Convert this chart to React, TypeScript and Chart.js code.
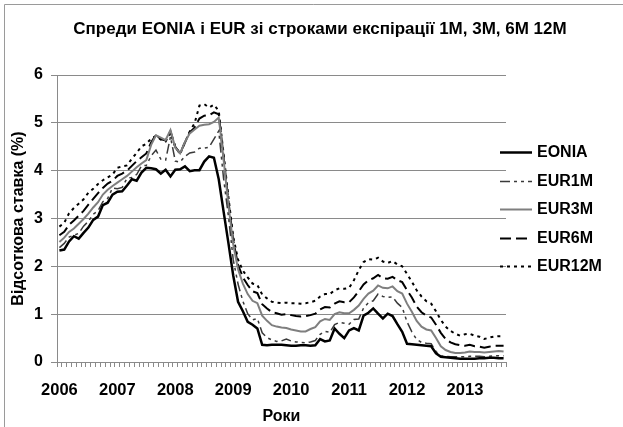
import React, { useEffect, useRef } from "react";
import { Chart, registerables } from "chart.js";

Chart.register(...registerables);

// ---------- data ----------
const years = [2006, 2007, 2008, 2009, 2010, 2011, 2012, 2013];
const monthsPerYear = [12, 12, 12, 12, 12, 12, 12, 9];
const yearTickLabels = ["2006", "2007", "2008", "2009", "2010", "2011", "2012", "2013"];
const yTickValues = [0, 1, 2, 3, 4, 5, 6];

const chartTitle = "Спреди EONIA і EUR зі строками експірації 1M, 3M, 6M 12M";
const yAxisTitle = "Відсоткова ставка (%)";
const xAxisTitle = "Роки";
const seriesNames = ["EONIA", "EUR1M", "EUR3M", "EUR6M", "EUR12M"];

const eonia = [
  2.33, 2.35, 2.52, 2.63, 2.58, 2.7, 2.81, 2.97, 3.04, 3.28, 3.33, 3.5,
  3.56, 3.57, 3.69, 3.82, 3.79, 3.96, 4.06, 4.05, 4.03, 3.94, 4.02, 3.88,
  4.02, 4.03, 4.09, 3.99, 4.01, 4.01, 4.19, 4.3, 4.27, 3.82, 3.15, 2.49,
  1.81, 1.26, 1.06, 0.84, 0.78, 0.7, 0.36, 0.35, 0.36, 0.36, 0.36, 0.35,
  0.34, 0.34, 0.35, 0.35, 0.34, 0.35, 0.48, 0.43, 0.45, 0.7, 0.59, 0.5,
  0.66, 0.71, 0.66, 0.97, 1.03, 1.12, 1.01, 0.91, 1.01, 0.96, 0.79, 0.63,
  0.38, 0.37, 0.36, 0.35, 0.34, 0.33, 0.18, 0.11, 0.1, 0.09, 0.08, 0.07,
  0.07, 0.07, 0.07, 0.08, 0.08, 0.09, 0.09, 0.08, 0.08,
];
const eur1m = [
  2.39, 2.48, 2.61, 2.65, 2.69, 2.84, 2.94, 3.09, 3.16, 3.35, 3.42, 3.64,
  3.62, 3.65, 3.84, 3.86, 3.92, 4.1, 4.11, 4.31, 4.43, 4.24, 4.22, 4.71,
  4.2, 4.18, 4.3, 4.37, 4.39, 4.47, 4.47, 4.49, 4.66, 4.83, 3.84, 3.05,
  2.14, 1.63, 1.27, 1.01, 0.88, 0.91, 0.61, 0.51, 0.46, 0.43, 0.44, 0.48,
  0.44, 0.42, 0.41, 0.4, 0.42, 0.45, 0.58, 0.64, 0.62, 0.78, 0.83, 0.81,
  0.79, 0.89, 0.9, 1.13, 1.24, 1.28, 1.42, 1.37, 1.35, 1.36, 1.23, 1.14,
  0.84, 0.63, 0.47, 0.41, 0.39, 0.38, 0.22, 0.13, 0.12, 0.11, 0.11, 0.11,
  0.11, 0.12, 0.12, 0.12, 0.11, 0.12, 0.13, 0.13, 0.13,
];
const eur3m = [
  2.51, 2.6, 2.72, 2.79, 2.89, 2.99, 3.1, 3.23, 3.34, 3.5, 3.6, 3.68,
  3.75, 3.82, 3.89, 3.98, 4.07, 4.15, 4.22, 4.54, 4.74, 4.69, 4.64, 4.85,
  4.48, 4.36, 4.6, 4.78, 4.86, 4.94, 4.96, 4.97, 5.02, 5.11, 4.24, 3.29,
  2.46, 1.94, 1.64, 1.42, 1.28, 1.23, 0.97, 0.86, 0.77, 0.74, 0.72, 0.71,
  0.68, 0.66, 0.64, 0.64, 0.69, 0.73, 0.85, 0.9, 0.88, 1.0, 1.04, 1.02,
  1.02, 1.09, 1.18, 1.32, 1.43, 1.49, 1.6, 1.55, 1.54, 1.58, 1.48, 1.43,
  1.22, 1.05, 0.86, 0.74, 0.68, 0.66, 0.5, 0.33, 0.25, 0.21, 0.19, 0.19,
  0.2, 0.22, 0.21, 0.21, 0.2, 0.21, 0.22, 0.23, 0.22,
];
const eur6m = [
  2.65, 2.72, 2.87, 2.96, 3.06, 3.16, 3.29, 3.41, 3.53, 3.64, 3.73, 3.79,
  3.89, 3.94, 4.0, 4.1, 4.2, 4.28, 4.36, 4.59, 4.75, 4.66, 4.63, 4.82,
  4.5, 4.36, 4.59, 4.8, 4.9, 5.09, 5.15, 5.16, 5.22, 5.18, 4.29, 3.37,
  2.54, 2.03, 1.77, 1.61, 1.48, 1.44, 1.21, 1.12, 1.04, 1.02, 0.99, 1.0,
  0.98, 0.96, 0.95, 0.96, 0.98, 1.01, 1.1, 1.15, 1.14, 1.22, 1.27, 1.25,
  1.25, 1.35, 1.48, 1.62, 1.71, 1.75, 1.82, 1.75, 1.74, 1.78, 1.71, 1.67,
  1.5, 1.35, 1.16, 1.04, 0.97, 0.93, 0.78, 0.61, 0.48, 0.41, 0.37, 0.35,
  0.34, 0.36, 0.33, 0.32, 0.3, 0.32, 0.34, 0.34, 0.34,
];
const eur12m = [
  2.83, 2.91, 3.11, 3.22, 3.31, 3.4, 3.54, 3.62, 3.72, 3.8, 3.86, 3.92,
  4.06, 4.09, 4.11, 4.25, 4.37, 4.51, 4.56, 4.67, 4.73, 4.65, 4.61, 4.79,
  4.5, 4.35, 4.59, 4.82, 4.99, 5.36, 5.39, 5.32, 5.38, 5.25, 4.35, 3.45,
  2.62, 2.14, 1.91, 1.77, 1.64, 1.61, 1.41, 1.33, 1.26, 1.24, 1.23, 1.24,
  1.23, 1.23, 1.22, 1.23, 1.25, 1.28, 1.37, 1.42, 1.42, 1.5, 1.54, 1.53,
  1.55, 1.71, 1.92, 2.09, 2.15, 2.14, 2.18, 2.1, 2.07, 2.11, 2.04, 2.0,
  1.84, 1.68, 1.5, 1.37, 1.27, 1.22, 1.06, 0.88, 0.74, 0.65, 0.59, 0.55,
  0.58, 0.59, 0.55, 0.53, 0.48, 0.51, 0.53, 0.54, 0.54,
];

// ---------- styles ----------
const FONT = '"Liberation Sans", Arial, sans-serif';
const GRID = "#8a8a8a";

const buildMonths = () => {
  const out: string[] = [];
  years.forEach((y, i) => {
    for (let m = 1; m <= monthsPerYear[i]; m++) out.push(`${y}-${m < 10 ? "0" + m : m}`);
  });
  return out;
};

const decorPlugin = {
  id: "decor",
  beforeDraw(chart: any) {
    const ctx = chart.ctx;
    ctx.save();
    ctx.fillStyle = "#ffffff";
    ctx.fillRect(0, 0, chart.width, chart.height);
    ctx.restore();
  },
  afterDraw(chart: any) {
    const ctx = chart.ctx;
    ctx.save();
    ctx.strokeStyle = "#9a9a9a";
    ctx.lineWidth = 1;
    ctx.beginPath();
    ctx.moveTo(4.5, chart.height);
    ctx.lineTo(4.5, 4.5);
    ctx.lineTo(chart.width, 4.5);
    ctx.stroke();

    ctx.fillStyle = "#000";
    ctx.font = `bold 17px ${FONT}`;
    ctx.textAlign = "center";
    ctx.textBaseline = "middle";
    ctx.fillText(chartTitle, 320, 29);

    ctx.font = `bold 16px ${FONT}`;
    chart.data.datasets.forEach((ds: any, i: number) => {
      const y = Math.round(152 + i * 28.5) + 0.5;
      ctx.setLineDash(ds.borderDash || []);
      ctx.strokeStyle = ds.borderColor;
      ctx.lineWidth = ds.borderWidth;
      ctx.beginPath();
      ctx.moveTo(500, y);
      ctx.lineTo(532, y);
      ctx.stroke();
      ctx.setLineDash([]);
      ctx.textAlign = "left";
      ctx.fillText(ds.label, 537, y);
    });
    ctx.restore();
  },
};

export default function App() {
  const ref = useRef<HTMLCanvasElement | null>(null);
  useEffect(() => {
    if (!ref.current) return;
    const months = buildMonths();
    const styles = [
      { color: "#000000", width: 2.5, dash: [] as number[] },
      { color: "#3a3a3a", width: 1.5, dash: [10, 4, 3, 4, 3, 4] },
      { color: "#7f7f7f", width: 2, dash: [] as number[] },
      { color: "#000000", width: 2, dash: [11, 5] },
      { color: "#000000", width: 2, dash: [3, 4] },
    ];
    const values = [eonia, eur1m, eur3m, eur6m, eur12m];
    const chart = new Chart(ref.current, {
      type: "line",
      data: {
        labels: months,
        datasets: seriesNames.map((name, i) => ({
          label: name,
          data: values[i],
          borderColor: styles[i].color,
          borderWidth: styles[i].width,
          borderDash: styles[i].dash,
          pointRadius: 0,
          tension: 0,
          fill: false,
        })),
      },
      options: {
        responsive: false,
        animation: false,
        events: [],
        layout: { padding: { left: 0, top: 75, right: 117, bottom: 0 } },
        plugins: {
          legend: { display: false },
          tooltip: { enabled: false },
          title: { display: false },
        },
        scales: {
          x: {
            type: "category",
            offset: true,
            afterFit: (s: any) => {
              s.height = 65;
            },
            grid: {
              display: true,
              drawOnChartArea: false,
              drawTicks: true,
              tickLength: 5,
              offset: true,
              color: GRID,
            },
            border: { color: GRID, width: 1 },
            ticks: {
              autoSkip: false,
              maxRotation: 0,
              minRotation: 0,
              padding: 14,
              color: "#000",
              font: { family: FONT, size: 16.5, weight: "bold" },
              callback: (_v: any, idx: number) =>
                idx % 12 === 0 ? yearTickLabels[idx / 12] : "",
            },
            title: {
              display: true,
              text: xAxisTitle,
              color: "#000",
              font: { family: FONT, size: 16, weight: "bold" },
              padding: { top: 0, bottom: 1 },
            },
          },
          y: {
            min: 0,
            max: 6,
            afterFit: (s: any) => {
              s.width = 57;
            },
            afterBuildTicks: (s: any) => {
              s.ticks = yTickValues.map((v) => ({ value: v }));
            },
            grid: {
              color: GRID,
              tickLength: 6,
              drawTicks: true,
            },
            border: { color: GRID, width: 1 },
            ticks: {
              padding: 8,
              color: "#000",
              font: { family: FONT, size: 16, weight: "bold" },
            },
            title: {
              display: true,
              text: yAxisTitle,
              color: "#000",
              font: { family: FONT, size: 16, weight: "bold" },
              padding: { top: 9, bottom: 0 },
            },
          },
        },
      },
      plugins: [decorPlugin],
    });
    return () => chart.destroy();
  }, []);

  return (
    <div style={{ position: "fixed", left: 0, top: 0, width: 623, height: 427, background: "#fff" }}>
      <canvas ref={ref} width={623} height={427} style={{ display: "block", width: 623, height: 427 }} />
    </div>
  );
}
